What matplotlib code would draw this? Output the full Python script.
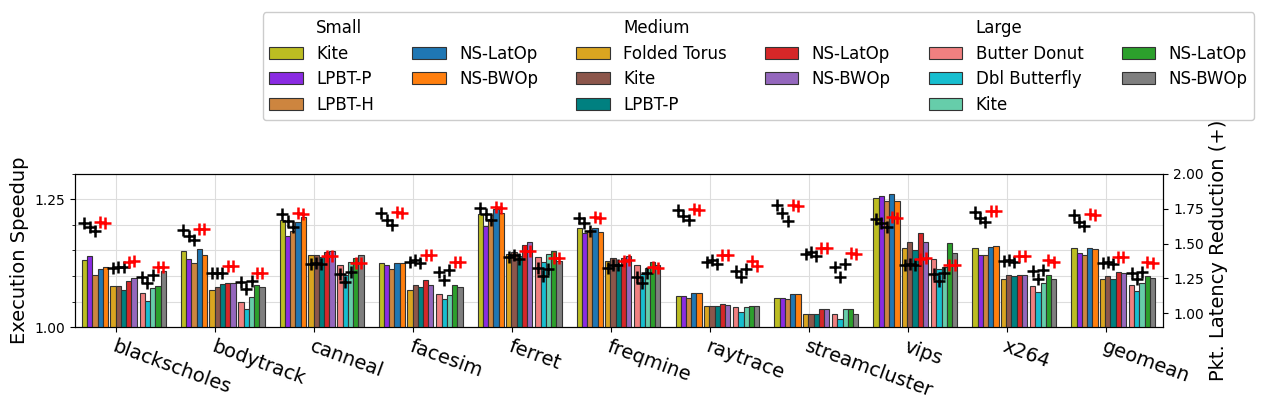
import matplotlib
matplotlib.use("Agg")
import matplotlib.pyplot as plt
import numpy as np
from matplotlib.patches import Patch
from matplotlib.ticker import MultipleLocator

benchmarks = ["blackscholes", "bodytrack", "canneal", "facesim", "ferret", "freqmine",
              "raytrace", "streamcluster", "vips", "x264", "geomean"]

series_names = ["Small Kite", "Small LPBT-P", "Small LPBT-H", "Small NS-LatOp", "Small NS-BWOp",
                "Medium Folded Torus", "Medium Kite", "Medium LPBT-P", "Medium NS-LatOp", "Medium NS-BWOp",
                "Large Butter Donut", "Large Dbl Butterfly", "Large Kite", "Large NS-LatOp", "Large NS-BWOp"]
colors = ["#bcbd22", "#8a2be2", "#cd853f", "#1f77b4", "#ff7f0e",
          "#daa520", "#8c564b", "#008080", "#d62728", "#9467bd",
          "#f08080", "#17becf", "#66cdaa", "#2ca02c", "#7f7f7f"]

# execution speedup per benchmark (15 series)
speedup = [
    [1.132, 1.139, 1.102, 1.114, 1.118, 1.081, 1.081, 1.072, 1.091, 1.096, 1.066, 1.051, 1.076, 1.080, 1.110],
    [1.149, 1.133, 1.125, 1.153, 1.141, 1.072, 1.079, 1.084, 1.087, 1.087, 1.049, 1.035, 1.059, 1.082, 1.078],
    [1.210, 1.178, 1.189, 1.206, 1.216, 1.141, 1.141, 1.137, 1.147, 1.149, 1.121, 1.103, 1.128, 1.135, 1.141],
    [1.125, 1.121, 1.114, 1.125, 1.125, 1.072, 1.082, 1.078, 1.092, 1.082, 1.064, 1.055, 1.062, 1.082, 1.078],
    [1.222, 1.198, 1.211, 1.232, 1.224, 1.143, 1.147, 1.139, 1.161, 1.167, 1.137, 1.127, 1.143, 1.149, 1.129],
    [1.194, 1.184, 1.188, 1.194, 1.186, 1.129, 1.135, 1.121, 1.135, 1.139, 1.121, 1.104, 1.116, 1.127, 1.121],
    [1.060, 1.060, 1.057, 1.066, 1.066, 1.041, 1.041, 1.041, 1.045, 1.043, 1.039, 1.029, 1.039, 1.041, 1.041],
    [1.057, 1.057, 1.055, 1.064, 1.064, 1.025, 1.025, 1.025, 1.035, 1.035, 1.025, 1.015, 1.035, 1.035, 1.025],
    [1.253, 1.257, 1.246, 1.260, 1.247, 1.155, 1.167, 1.151, 1.185, 1.167, 1.133, 1.114, 1.117, 1.165, 1.145],
    [1.155, 1.141, 1.141, 1.157, 1.159, 1.094, 1.102, 1.100, 1.102, 1.102, 1.080, 1.068, 1.086, 1.102, 1.094],
    [1.155, 1.145, 1.141, 1.155, 1.153, 1.094, 1.100, 1.094, 1.108, 1.106, 1.082, 1.070, 1.086, 1.100, 1.096],
]

# packet latency reduction per benchmark (15 series)
latency = [
    [1.648, 1.616, 1.591, 1.657, 1.648, 1.326, 1.331, 1.331, 1.366, 1.374, 1.260, 1.214, 1.274, 1.330, 1.330],
    [1.595, 1.552, 1.524, 1.605, 1.605, 1.288, 1.291, 1.288, 1.338, 1.338, 1.224, 1.176, 1.231, 1.291, 1.291],
    [1.712, 1.660, 1.621, 1.719, 1.714, 1.355, 1.362, 1.355, 1.410, 1.410, 1.279, 1.224, 1.295, 1.357, 1.357],
    [1.719, 1.667, 1.636, 1.724, 1.719, 1.366, 1.381, 1.357, 1.417, 1.417, 1.295, 1.238, 1.312, 1.369, 1.369],
    [1.752, 1.714, 1.671, 1.760, 1.755, 1.405, 1.419, 1.390, 1.445, 1.445, 1.321, 1.267, 1.317, 1.398, 1.393],
    [1.683, 1.648, 1.593, 1.690, 1.683, 1.324, 1.348, 1.348, 1.376, 1.383, 1.260, 1.217, 1.291, 1.333, 1.326],
    [1.740, 1.698, 1.669, 1.750, 1.743, 1.366, 1.383, 1.355, 1.419, 1.419, 1.302, 1.260, 1.317, 1.374, 1.338],
    [1.776, 1.719, 1.660, 1.774, 1.767, 1.424, 1.438, 1.410, 1.469, 1.469, 1.331, 1.260, 1.352, 1.431, 1.424],
    [1.674, 1.648, 1.616, 1.690, 1.686, 1.343, 1.350, 1.348, 1.390, 1.393, 1.281, 1.229, 1.286, 1.348, 1.348],
    [1.726, 1.683, 1.655, 1.736, 1.736, 1.376, 1.381, 1.371, 1.410, 1.410, 1.302, 1.248, 1.312, 1.381, 1.369],
    [1.705, 1.657, 1.624, 1.710, 1.705, 1.362, 1.366, 1.350, 1.402, 1.402, 1.291, 1.245, 1.295, 1.364, 1.357],
]

speedup = np.array(speedup)
latency = np.array(latency)
is_ns = np.array([n.split()[-1].startswith("NS") for n in series_names])

fig = plt.figure(figsize=(12.7, 4.12), dpi=100)
ax = fig.add_axes([0.059, 0.206, 0.857, 0.372])
ax2 = ax.twinx()

w = 0.053
slots = np.array([0, 1, 2, 3, 4, 5.45, 6.45, 7.45, 8.45, 9.45, 11, 12, 13, 14, 15])
offsets = -0.35 + w / 2 + slots * w
x = np.arange(len(benchmarks))

for j in range(len(series_names)):
    ax.bar(x + offsets[j], speedup[:, j] - 1.0, bottom=1.0, width=w, color=colors[j],
           edgecolor="#333333", linewidth=0.8, zorder=3)
    ax2.scatter(x + offsets[j], latency[:, j], marker="+", s=70, linewidths=1.8,
                color="red" if is_ns[j] else "black", zorder=4)

ax.set_xlim(-0.42, 10.58)
ax.set_ylim(1.0, 1.30)
ax.set_yticks([1.00, 1.25])
ax.yaxis.set_minor_locator(MultipleLocator(0.05))
ax.tick_params(axis="y", labelsize=10)
ax.set_xticks(x)
ax.set_xticklabels(benchmarks, rotation=-20, ha="left", rotation_mode="anchor", fontsize=14)
ax.grid(True, which="both", color="#dddddd", linewidth=0.8, zorder=0)
ax.set_axisbelow(True)
ax.set_ylabel("Execution Speedup", fontsize=14)

ax2.set_ylim(0.9, 2.0)
ax2.set_yticks([1.00, 1.25, 1.50, 1.75, 2.00])
ax2.tick_params(axis="y", labelsize=10)
ax2.set_ylabel("Pkt. Latency Reduction (+)", fontsize=14)

blank = Patch(facecolor="none", edgecolor="none")
def P(c):
    return Patch(facecolor=c, edgecolor="#333333", linewidth=0.8)
handles = [blank, P(colors[0]), P(colors[1]), P(colors[2]),
           blank, P(colors[3]), P(colors[4]), blank,
           blank, P(colors[5]), P(colors[6]), P(colors[7]),
           blank, P(colors[8]), P(colors[9]), blank,
           blank, P(colors[10]), P(colors[11]), P(colors[12]),
           blank, P(colors[13]), P(colors[14]), blank]
labels = ["Small", "Kite", "LPBT-P", "LPBT-H",
          "", "NS-LatOp", "NS-BWOp", "",
          "Medium", "Folded Torus", "Kite", "LPBT-P",
          "", "NS-LatOp", "NS-BWOp", "",
          "Large", "Butter Donut", "Dbl Butterfly", "Kite",
          "", "NS-LatOp", "NS-BWOp", ""]
fig.legend(handles, labels, ncol=6, loc="upper right", bbox_to_anchor=(0.994, 0.99),
           fontsize=12, handlelength=2.0, columnspacing=2.3, labelspacing=0.45, framealpha=1)

fig.savefig("out.png", dpi=100)
